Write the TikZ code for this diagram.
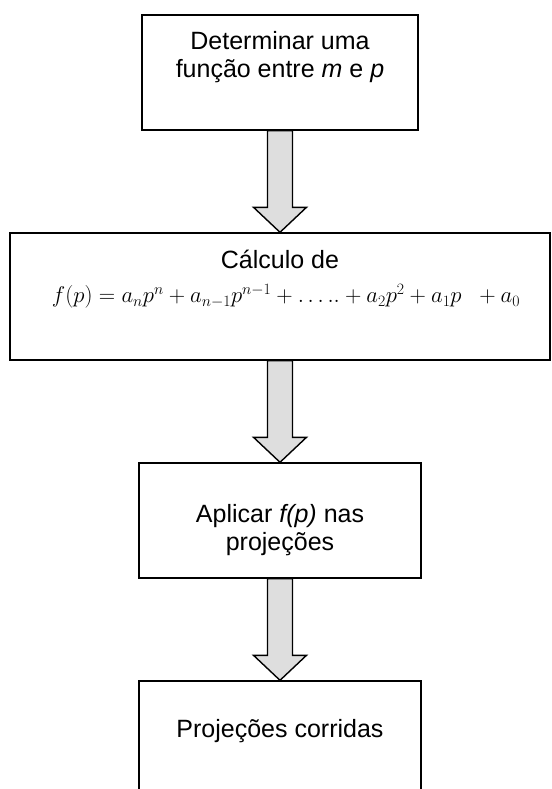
\documentclass[tikz,border=0pt]{standalone}
\usepackage{fontspec}
\usepackage{graphicx}
\setmainfont{Liberation Sans}
\usetikzlibrary{positioning,calc}
\definecolor{ArrowFill}{HTML}{DEDEDE}
\tikzset{
  stagebox/.style={draw, line width=1.4pt, inner sep=0pt},
  stagetext/.style={inner sep=0pt, align=center, font=\fontsize{25}{28}\selectfont},
  formula/.style={inner sep=0pt, font=\fontsize{25}{28}\selectfont},
  blockarrow/.style={draw, line width=1.4pt, fill=ArrowFill, line join=miter},
}
% fat arrow from the bottom of one box to the top of the next
\newcommand{\flowarrow}[2]{%
  \draw[blockarrow] let \p1=(#1.south), \p2=(#2.north) in
    (\x2-12.5pt,\y1) -- (\x2-12.5pt,\y2+25pt) -- (\x2-26.5pt,\y2+25pt) -- (\x2,\y2)
    -- (\x2+26.5pt,\y2+25pt) -- (\x2+12.5pt,\y2+25pt) -- (\x2+12.5pt,\y1) -- cycle;}

\begin{document}
\begin{tikzpicture}[x=1pt, y=-1pt]
    \useasboundingbox (0,0) rectangle (551,789);
    \clip (0,0) rectangle (551,789);

    % Boxes
    \node[stagebox, minimum width=276pt, minimum height=115pt] (b1) at (280,72.5) {};
    \node[stagebox, minimum width=540pt, minimum height=127pt] (b2) at (280,296.5) {};
    \node[stagebox, minimum width=282pt, minimum height=115pt] (b3) at (280,520.5) {};
    \node[stagebox, minimum width=282pt, minimum height=140pt] (b4) at (280,751) {};

    % Texts
    \node[stagetext, below=17pt of b1.north] (t1) {Determinar uma\\função entre \textit{m} e \textit{p}};
    \node[stagetext, below=18pt of b2.north] (t2) {Cálculo de};
    \node[formula, below=15pt of t2, xshift=6pt] (f2)
      {\resizebox{468pt}{!}{$f(p) = a_n p^n + a_{n-1} p^{n-1} + \ldots.. + a_2 p^2 + a_1 p \;\; + a_0$}};
    \node[stagetext, below=42pt of b3.north] (t3) {Aplicar \textit{f(p)} nas\\projeções};
    \node[stagetext, below=39pt of b4.north] (t4) {Projeções corridas};

    % Arrows
    \flowarrow{b1}{b2}
    \flowarrow{b2}{b3}
    \flowarrow{b3}{b4}

\end{tikzpicture}
\end{document}
